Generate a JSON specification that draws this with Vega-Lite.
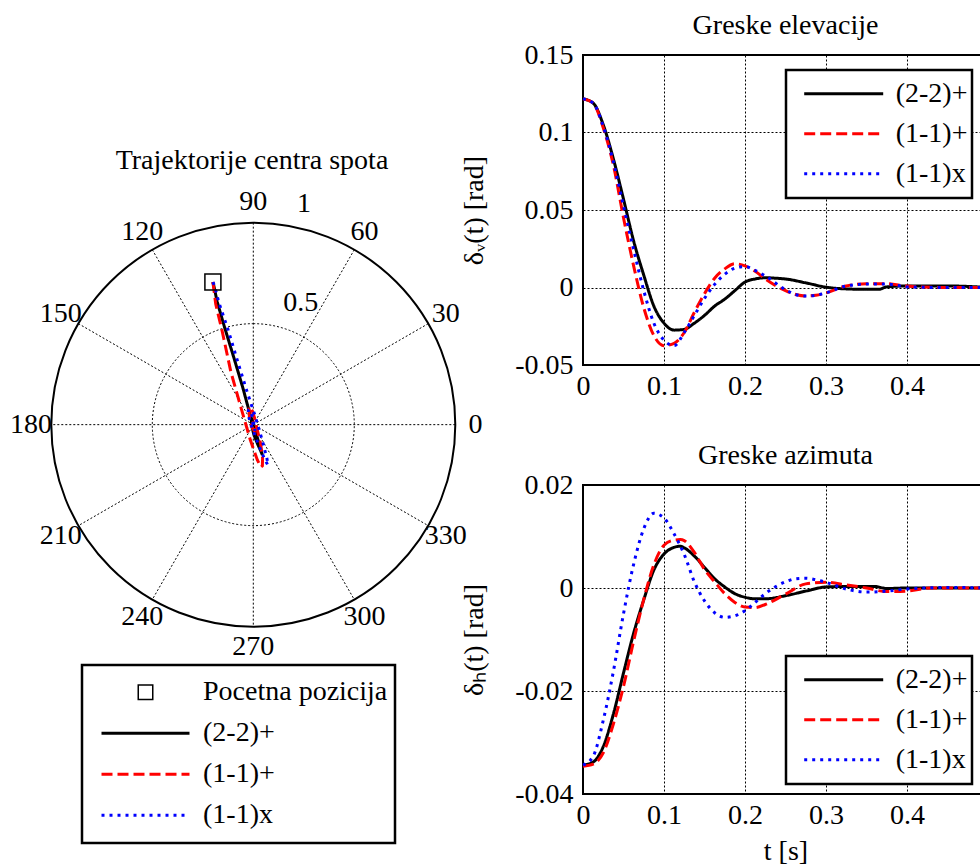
{
  "$schema": "https://vega.github.io/schema/vega-lite/v6.json",
  "padding": {"left": 0, "top": 11, "right": 0, "bottom": 0},
  "background": "white",
  "config": {
    "font": "Liberation Serif",
    "view": {"stroke": "black", "strokeWidth": 2},
    "axis": {
      "labelFont": "Liberation Serif", "labelFontSize": 28, "labelColor": "black",
      "titleFont": "Liberation Serif", "titleFontSize": 28, "titleFontWeight": "normal", "titleColor": "black",
      "ticks": false, "domain": false, "grid": true, "gridColor": "black", "gridDash": [2, 2], "gridOpacity": 1, "gridWidth": 1,
      "labelFlush": false, "labelOverlap": false
    },
    "title": {"font": "Liberation Serif", "fontSize": 28, "fontWeight": "normal", "color": "black"},
    "legend": {"labelFont": "Liberation Serif", "labelFontSize": 28, "labelColor": "black", "labelLimit": 400}
  },
  "datasets": {
    "elev": [
      {"t":0,"v":0.1217,"s":"(2-2)+"},{"t":0.0125,"v":0.119,"s":"(2-2)+"},{"t":0.025,"v":0.105,"s":"(2-2)+"},{"t":0.0375,"v":0.083,"s":"(2-2)+"},{"t":0.05,"v":0.057,"s":"(2-2)+"},{"t":0.0625,"v":0.03,"s":"(2-2)+"},{"t":0.075,"v":0.008,"s":"(2-2)+"},{"t":0.0875,"v":-0.012,"s":"(2-2)+"},{"t":0.1,"v":-0.023,"s":"(2-2)+"},{"t":0.1125,"v":-0.0275,"s":"(2-2)+"},{"t":0.125,"v":-0.027,"s":"(2-2)+"},{"t":0.1375,"v":-0.023,"s":"(2-2)+"},{"t":0.15,"v":-0.018,"s":"(2-2)+"},{"t":0.1625,"v":-0.012,"s":"(2-2)+"},{"t":0.175,"v":-0.0075,"s":"(2-2)+"},{"t":0.1875,"v":-0.002,"s":"(2-2)+"},{"t":0.2,"v":0.0035,"s":"(2-2)+"},{"t":0.2125,"v":0.0055,"s":"(2-2)+"},{"t":0.225,"v":0.0063,"s":"(2-2)+"},{"t":0.2375,"v":0.006,"s":"(2-2)+"},{"t":0.25,"v":0.0055,"s":"(2-2)+"},{"t":0.275,"v":0.003,"s":"(2-2)+"},{"t":0.3,"v":0.0002,"s":"(2-2)+"},{"t":0.325,"v":-0.0009,"s":"(2-2)+"},{"t":0.35,"v":-0.0012,"s":"(2-2)+"},{"t":0.365,"v":-0.0012,"s":"(2-2)+"},{"t":0.375,"v":0.0004,"s":"(2-2)+"},{"t":0.4,"v":0.001,"s":"(2-2)+"},{"t":0.45,"v":0.001,"s":"(2-2)+"},{"t":0.5,"v":0,"s":"(2-2)+"},
      {"t":0,"v":0.1217,"s":"(1-1)+"},{"t":0.0125,"v":0.119,"s":"(1-1)+"},{"t":0.025,"v":0.103,"s":"(1-1)+"},{"t":0.0375,"v":0.079,"s":"(1-1)+"},{"t":0.05,"v":0.045,"s":"(1-1)+"},{"t":0.0625,"v":0.014,"s":"(1-1)+"},{"t":0.075,"v":-0.013,"s":"(1-1)+"},{"t":0.0875,"v":-0.031,"s":"(1-1)+"},{"t":0.1,"v":-0.0375,"s":"(1-1)+"},{"t":0.1125,"v":-0.036,"s":"(1-1)+"},{"t":0.125,"v":-0.029,"s":"(1-1)+"},{"t":0.1375,"v":-0.016,"s":"(1-1)+"},{"t":0.15,"v":-0.004,"s":"(1-1)+"},{"t":0.1625,"v":0.006,"s":"(1-1)+"},{"t":0.175,"v":0.012,"s":"(1-1)+"},{"t":0.1875,"v":0.0153,"s":"(1-1)+"},{"t":0.2,"v":0.014,"s":"(1-1)+"},{"t":0.2125,"v":0.0105,"s":"(1-1)+"},{"t":0.225,"v":0.0055,"s":"(1-1)+"},{"t":0.25,"v":-0.002,"s":"(1-1)+"},{"t":0.2625,"v":-0.0045,"s":"(1-1)+"},{"t":0.275,"v":-0.0055,"s":"(1-1)+"},{"t":0.2875,"v":-0.005,"s":"(1-1)+"},{"t":0.3,"v":-0.0035,"s":"(1-1)+"},{"t":0.325,"v":0.001,"s":"(1-1)+"},{"t":0.35,"v":0.0024,"s":"(1-1)+"},{"t":0.375,"v":0.0024,"s":"(1-1)+"},{"t":0.4,"v":0.0009,"s":"(1-1)+"},{"t":0.45,"v":0,"s":"(1-1)+"},{"t":0.5,"v":0,"s":"(1-1)+"},
      {"t":0,"v":0.1217,"s":"(1-1)x"},{"t":0.0125,"v":0.119,"s":"(1-1)x"},{"t":0.025,"v":0.104,"s":"(1-1)x"},{"t":0.0375,"v":0.081,"s":"(1-1)x"},{"t":0.05,"v":0.0525,"s":"(1-1)x"},{"t":0.0625,"v":0.0245,"s":"(1-1)x"},{"t":0.075,"v":-0.002,"s":"(1-1)x"},{"t":0.0875,"v":-0.023,"s":"(1-1)x"},{"t":0.1,"v":-0.034,"s":"(1-1)x"},{"t":0.1125,"v":-0.0375,"s":"(1-1)x"},{"t":0.125,"v":-0.029,"s":"(1-1)x"},{"t":0.1375,"v":-0.018,"s":"(1-1)x"},{"t":0.15,"v":-0.007,"s":"(1-1)x"},{"t":0.1625,"v":0.002,"s":"(1-1)x"},{"t":0.175,"v":0.0085,"s":"(1-1)x"},{"t":0.1875,"v":0.0125,"s":"(1-1)x"},{"t":0.2,"v":0.0135,"s":"(1-1)x"},{"t":0.2125,"v":0.011,"s":"(1-1)x"},{"t":0.225,"v":0.0075,"s":"(1-1)x"},{"t":0.25,"v":-0.0015,"s":"(1-1)x"},{"t":0.2625,"v":-0.0045,"s":"(1-1)x"},{"t":0.275,"v":-0.0055,"s":"(1-1)x"},{"t":0.2875,"v":-0.005,"s":"(1-1)x"},{"t":0.3,"v":-0.0035,"s":"(1-1)x"},{"t":0.325,"v":0.001,"s":"(1-1)x"},{"t":0.35,"v":0.0022,"s":"(1-1)x"},{"t":0.375,"v":0.0022,"s":"(1-1)x"},{"t":0.4,"v":0.0004,"s":"(1-1)x"},{"t":0.45,"v":0,"s":"(1-1)x"},{"t":0.5,"v":0,"s":"(1-1)x"}
    ],
    "azim": [
      {"t":0,"h":-0.0344,"s":"(2-2)+"},{"t":0.0125,"h":-0.0338,"s":"(2-2)+"},{"t":0.025,"h":-0.0308,"s":"(2-2)+"},{"t":0.0375,"h":-0.0245,"s":"(2-2)+"},{"t":0.05,"h":-0.0165,"s":"(2-2)+"},{"t":0.0625,"h":-0.0088,"s":"(2-2)+"},{"t":0.075,"h":-0.0023,"s":"(2-2)+"},{"t":0.0875,"h":0.0035,"s":"(2-2)+"},{"t":0.1,"h":0.0066,"s":"(2-2)+"},{"t":0.1125,"h":0.0079,"s":"(2-2)+"},{"t":0.12,"h":0.0081,"s":"(2-2)+"},{"t":0.125,"h":0.0078,"s":"(2-2)+"},{"t":0.1375,"h":0.0062,"s":"(2-2)+"},{"t":0.15,"h":0.004,"s":"(2-2)+"},{"t":0.1625,"h":0.0018,"s":"(2-2)+"},{"t":0.175,"h":0.0002,"s":"(2-2)+"},{"t":0.1875,"h":-0.0011,"s":"(2-2)+"},{"t":0.2,"h":-0.0018,"s":"(2-2)+"},{"t":0.2125,"h":-0.0021,"s":"(2-2)+"},{"t":0.225,"h":-0.0021,"s":"(2-2)+"},{"t":0.25,"h":-0.0015,"s":"(2-2)+"},{"t":0.275,"h":-0.0006,"s":"(2-2)+"},{"t":0.3,"h":0.0002,"s":"(2-2)+"},{"t":0.325,"h":0.0003,"s":"(2-2)+"},{"t":0.36,"h":0.0003,"s":"(2-2)+"},{"t":0.375,"h":-0.0001,"s":"(2-2)+"},{"t":0.4,"h":0,"s":"(2-2)+"},{"t":0.5,"h":0,"s":"(2-2)+"},
      {"t":0,"h":-0.0346,"s":"(1-1)+"},{"t":0.0125,"h":-0.0342,"s":"(1-1)+"},{"t":0.025,"h":-0.032,"s":"(1-1)+"},{"t":0.0375,"h":-0.0264,"s":"(1-1)+"},{"t":0.05,"h":-0.0191,"s":"(1-1)+"},{"t":0.0625,"h":-0.0103,"s":"(1-1)+"},{"t":0.075,"h":-0.0022,"s":"(1-1)+"},{"t":0.0875,"h":0.0045,"s":"(1-1)+"},{"t":0.1,"h":0.0083,"s":"(1-1)+"},{"t":0.1125,"h":0.0093,"s":"(1-1)+"},{"t":0.12,"h":0.0094,"s":"(1-1)+"},{"t":0.125,"h":0.0092,"s":"(1-1)+"},{"t":0.1375,"h":0.0069,"s":"(1-1)+"},{"t":0.15,"h":0.0036,"s":"(1-1)+"},{"t":0.1625,"h":0.0012,"s":"(1-1)+"},{"t":0.175,"h":-0.0011,"s":"(1-1)+"},{"t":0.1875,"h":-0.0028,"s":"(1-1)+"},{"t":0.2,"h":-0.0037,"s":"(1-1)+"},{"t":0.2125,"h":-0.0038,"s":"(1-1)+"},{"t":0.225,"h":-0.0032,"s":"(1-1)+"},{"t":0.25,"h":-0.0012,"s":"(1-1)+"},{"t":0.275,"h":0.0008,"s":"(1-1)+"},{"t":0.3,"h":0.0011,"s":"(1-1)+"},{"t":0.325,"h":0.0006,"s":"(1-1)+"},{"t":0.35,"h":0,"s":"(1-1)+"},{"t":0.375,"h":-0.0007,"s":"(1-1)+"},{"t":0.4,"h":-0.0006,"s":"(1-1)+"},{"t":0.43,"h":0,"s":"(1-1)+"},{"t":0.5,"h":0,"s":"(1-1)+"},
      {"t":0,"h":-0.0344,"s":"(1-1)x"},{"t":0.0125,"h":-0.0327,"s":"(1-1)x"},{"t":0.025,"h":-0.0257,"s":"(1-1)x"},{"t":0.0375,"h":-0.0162,"s":"(1-1)x"},{"t":0.05,"h":-0.005,"s":"(1-1)x"},{"t":0.0625,"h":0.0046,"s":"(1-1)x"},{"t":0.075,"h":0.0115,"s":"(1-1)x"},{"t":0.0875,"h":0.0145,"s":"(1-1)x"},{"t":0.1,"h":0.0136,"s":"(1-1)x"},{"t":0.1125,"h":0.0105,"s":"(1-1)x"},{"t":0.125,"h":0.0065,"s":"(1-1)x"},{"t":0.1375,"h":0.0012,"s":"(1-1)x"},{"t":0.15,"h":-0.0025,"s":"(1-1)x"},{"t":0.1625,"h":-0.0048,"s":"(1-1)x"},{"t":0.175,"h":-0.0057,"s":"(1-1)x"},{"t":0.1875,"h":-0.0054,"s":"(1-1)x"},{"t":0.2,"h":-0.0044,"s":"(1-1)x"},{"t":0.2125,"h":-0.0028,"s":"(1-1)x"},{"t":0.225,"h":-0.0011,"s":"(1-1)x"},{"t":0.25,"h":0.0012,"s":"(1-1)x"},{"t":0.2625,"h":0.0018,"s":"(1-1)x"},{"t":0.275,"h":0.0019,"s":"(1-1)x"},{"t":0.2875,"h":0.0016,"s":"(1-1)x"},{"t":0.3,"h":0.0011,"s":"(1-1)x"},{"t":0.325,"h":-0.0002,"s":"(1-1)x"},{"t":0.35,"h":-0.0008,"s":"(1-1)x"},{"t":0.375,"h":-0.0006,"s":"(1-1)x"},{"t":0.4,"h":-0.0002,"s":"(1-1)x"},{"t":0.45,"h":0.0001,"s":"(1-1)x"},{"t":0.5,"h":0,"s":"(1-1)x"}
    ],
    "traj": [
      {"o":0,"x":-0.2,"y":0.706,"s":"(2-2)+"},{"o":1,"x":-0.196,"y":0.69,"s":"(2-2)+"},{"o":2,"x":-0.179,"y":0.609,"s":"(2-2)+"},{"o":3,"x":-0.142,"y":0.481,"s":"(2-2)+"},{"o":4,"x":-0.096,"y":0.331,"s":"(2-2)+"},{"o":5,"x":-0.051,"y":0.18,"s":"(2-2)+"},{"o":6,"x":-0.015,"y":0.046,"s":"(2-2)+"},{"o":7,"x":0.02,"y":-0.064,"s":"(2-2)+"},{"o":8,"x":0.038,"y":-0.128,"s":"(2-2)+"},{"o":9,"x":0.045,"y":-0.15,"s":"(2-2)+"},{"o":10,"x":0.044,"y":-0.148,"s":"(2-2)+"},{"o":11,"x":0.036,"y":-0.128,"s":"(2-2)+"},{"o":12,"x":0.023,"y":-0.1,"s":"(2-2)+"},{"o":13,"x":0.01,"y":-0.068,"s":"(2-2)+"},{"o":14,"x":0.001,"y":-0.043,"s":"(2-2)+"},{"o":15,"x":-0.006,"y":-0.012,"s":"(2-2)+"},{"o":16,"x":-0.01,"y":0.02,"s":"(2-2)+"},{"o":17,"x":-0.012,"y":0.036,"s":"(2-2)+"},{"o":18,"x":-0.009,"y":0.032,"s":"(2-2)+"},{"o":19,"x":-0.003,"y":0.017,"s":"(2-2)+"},{"o":20,"x":0.001,"y":0.001,"s":"(2-2)+"},{"o":21,"x":0.002,"y":-0.007,"s":"(2-2)+"},{"o":22,"x":0,"y":0.006,"s":"(2-2)+"},{"o":23,"x":0,"y":0,"s":"(2-2)+"},
      {"o":0,"x":-0.201,"y":0.706,"s":"(1-1)+"},{"o":1,"x":-0.198,"y":0.69,"s":"(1-1)+"},{"o":2,"x":-0.186,"y":0.597,"s":"(1-1)+"},{"o":3,"x":-0.153,"y":0.458,"s":"(1-1)+"},{"o":4,"x":-0.111,"y":0.261,"s":"(1-1)+"},{"o":5,"x":-0.06,"y":0.081,"s":"(1-1)+"},{"o":6,"x":-0.015,"y":-0.075,"s":"(1-1)+"},{"o":7,"x":0.02,"y":-0.175,"s":"(1-1)+"},{"o":8,"x":0.038,"y":-0.21,"s":"(1-1)+"},{"o":9,"x":0.045,"y":-0.204,"s":"(1-1)+"},{"o":10,"x":0.046,"y":-0.165,"s":"(1-1)+"},{"o":11,"x":0.036,"y":-0.093,"s":"(1-1)+"},{"o":12,"x":0.019,"y":-0.023,"s":"(1-1)+"},{"o":13,"x":0.006,"y":0.035,"s":"(1-1)+"},{"o":14,"x":-0.006,"y":0.07,"s":"(1-1)+"},{"o":15,"x":-0.016,"y":0.089,"s":"(1-1)+"},{"o":16,"x":-0.021,"y":0.081,"s":"(1-1)+"},{"o":17,"x":-0.019,"y":0.032,"s":"(1-1)+"},{"o":18,"x":-0.007,"y":-0.012,"s":"(1-1)+"},{"o":19,"x":0.005,"y":-0.032,"s":"(1-1)+"},{"o":20,"x":0.006,"y":-0.02,"s":"(1-1)+"},{"o":21,"x":0,"y":0.014,"s":"(1-1)+"},{"o":22,"x":-0.003,"y":0.005,"s":"(1-1)+"},{"o":23,"x":0,"y":0,"s":"(1-1)+"},
      {"o":0,"x":-0.2,"y":0.706,"s":"(1-1)x"},{"o":1,"x":-0.193,"y":0.69,"s":"(1-1)x"},{"o":2,"x":-0.17,"y":0.603,"s":"(1-1)x"},{"o":3,"x":-0.125,"y":0.47,"s":"(1-1)x"},{"o":4,"x":-0.075,"y":0.305,"s":"(1-1)x"},{"o":5,"x":-0.03,"y":0.16,"s":"(1-1)x"},{"o":6,"x":0.01,"y":0.04,"s":"(1-1)x"},{"o":7,"x":0.045,"y":-0.08,"s":"(1-1)x"},{"o":8,"x":0.068,"y":-0.17,"s":"(1-1)x"},{"o":9,"x":0.072,"y":-0.2,"s":"(1-1)x"},{"o":10,"x":0.058,"y":-0.175,"s":"(1-1)x"},{"o":11,"x":0.03,"y":-0.11,"s":"(1-1)x"},{"o":12,"x":0.005,"y":-0.045,"s":"(1-1)x"},{"o":13,"x":-0.015,"y":0.01,"s":"(1-1)x"},{"o":14,"x":-0.025,"y":0.049,"s":"(1-1)x"},{"o":15,"x":-0.025,"y":0.07,"s":"(1-1)x"},{"o":16,"x":-0.02,"y":0.075,"s":"(1-1)x"},{"o":17,"x":-0.006,"y":0.044,"s":"(1-1)x"},{"o":18,"x":0.005,"y":-0.009,"s":"(1-1)x"},{"o":19,"x":0.009,"y":-0.03,"s":"(1-1)x"},{"o":20,"x":0.005,"y":-0.02,"s":"(1-1)x"},{"o":21,"x":-0.004,"y":0.013,"s":"(1-1)x"},{"o":22,"x":-0.001,"y":0.002,"s":"(1-1)x"},{"o":23,"x":0,"y":0,"s":"(1-1)x"}
    ],
    "spokes": [
      {"x":1,"y":0,"x2":-1,"y2":0},
      {"x":0.866,"y":0.5,"x2":-0.866,"y2":-0.5},
      {"x":0.5,"y":0.866,"x2":-0.5,"y2":-0.866},
      {"x":0,"y":1,"x2":0,"y2":-1},
      {"x":-0.5,"y":0.866,"x2":0.5,"y2":-0.866},
      {"x":-0.866,"y":0.5,"x2":0.866,"y2":-0.5}
    ],
    "alab": [
      {"x":1.1,"y":0,"label":"0"},{"x":0.953,"y":0.55,"label":"30"},{"x":0.55,"y":0.953,"label":"60"},{"x":0,"y":1.1,"label":"90"},
      {"x":-0.55,"y":0.953,"label":"120"},{"x":-0.953,"y":0.55,"label":"150"},{"x":-1.1,"y":0,"label":"180"},{"x":-0.953,"y":-0.55,"label":"210"},
      {"x":-0.55,"y":-0.953,"label":"240"},{"x":0,"y":-1.1,"label":"270"},{"x":0.55,"y":-0.953,"label":"300"},{"x":0.953,"y":-0.55,"label":"330"},
      {"x":0.235,"y":0.602,"label":"0.5"},{"x":0.251,"y":1.092,"label":"1"}
    ]
  },
  "bounds": "flush",
  "spacing": 113,
  "resolve": {"scale": {"color": "independent", "strokeDash": "independent"}, "legend": {"color": "independent", "strokeDash": "independent"}},
  "hconcat": [
    {
      "width": 470,
      "height": 770,
      "view": {"stroke": null},
      "title": {"text": "Trajektorije centra spota", "offset": -142, "baseline": "alphabetic", "frame": "group", "anchor": "middle", "dx": 17},
      "layer": [
        {
          "data": {"values": [{"cx": 0, "cy": 0, "r": 0.5}]},
          "mark": {"type": "arc", "filled": false, "stroke": "black", "strokeWidth": 1, "strokeDash": [2, 2], "theta": 0, "theta2": 6.2832},
          "encoding": {
            "x": {"field": "cx", "type": "quantitative", "scale": {"domain": [-1.254, 1.0728], "nice": false, "zero": false}, "axis": null},
            "y": {"field": "cy", "type": "quantitative", "scale": {"domain": [-1.982, 1.83], "nice": false, "zero": false}, "axis": null},
            "radius": {"field": "r", "type": "quantitative", "scale": {"type": "linear", "domain": [0, 1], "range": [0, 202], "zero": true, "nice": false}}
          }
        },
        {
          "data": {"values": [{"cx": 0, "cy": 0, "r": 1}]},
          "mark": {"type": "arc", "filled": false, "stroke": "black", "strokeWidth": 2, "theta": 0, "theta2": 6.2832},
          "encoding": {
            "x": {"field": "cx", "type": "quantitative", "scale": {"domain": [-1.254, 1.0728], "nice": false, "zero": false}, "axis": null},
            "y": {"field": "cy", "type": "quantitative", "scale": {"domain": [-1.982, 1.83], "nice": false, "zero": false}, "axis": null},
            "radius": {"field": "r", "type": "quantitative", "scale": {"type": "linear", "domain": [0, 1], "range": [0, 202], "zero": true, "nice": false}}
          }
        },
        {
          "data": {"name": "spokes"},
          "mark": {"type": "rule", "stroke": "black", "strokeWidth": 1, "strokeDash": [2, 2]},
          "encoding": {
            "x": {"field": "x", "type": "quantitative", "scale": {"domain": [-1.254, 1.0728], "nice": false, "zero": false}, "axis": null},
            "y": {"field": "y", "type": "quantitative", "scale": {"domain": [-1.982, 1.83], "nice": false, "zero": false}, "axis": null},
            "x2": {"field": "x2"},
            "y2": {"field": "y2"}
          }
        },
        {
          "data": {"name": "alab"},
          "mark": {"type": "text", "font": "Liberation Serif", "fontSize": 28, "color": "black", "align": "center", "baseline": "middle"},
          "encoding": {
            "x": {"field": "x", "type": "quantitative", "scale": {"domain": [-1.254, 1.0728], "nice": false, "zero": false}, "axis": null},
            "y": {"field": "y", "type": "quantitative", "scale": {"domain": [-1.982, 1.83], "nice": false, "zero": false}, "axis": null},
            "text": {"field": "label", "type": "nominal"}
          }
        },
        {
          "data": {"name": "traj"},
          "mark": {"type": "line", "strokeWidth": 3},
          "encoding": {
            "x": {"field": "x", "type": "quantitative", "scale": {"domain": [-1.254, 1.0728], "nice": false, "zero": false}, "axis": null},
            "y": {"field": "y", "type": "quantitative", "scale": {"domain": [-1.982, 1.83], "nice": false, "zero": false}, "axis": null},
            "order": {"field": "o", "type": "quantitative"},
            "color": {
              "field": "s", "type": "nominal",
              "scale": {"domain": ["Pocetna pozicija", "(2-2)+", "(1-1)+", "(1-1)x"], "range": ["black", "black", "red", "blue"]},
              "legend": {"title": null, "orient": "none", "legendX": 82, "legendY": 610, "strokeColor": "black", "fillColor": "white", "padding": 7, "symbolType": "stroke", "symbolSize": 7744, "symbolStrokeWidth": 3, "symbolOffset": 11, "labelOffset": 12, "clipHeight": 40.7, "rowPadding": 0,
                "encode": {"legend": {"update": {"strokeWidth": {"value": 2.5}}}, "symbols": {"update": {"shape": {"signal": "datum.value === 'Pocetna pozicija' ? 'M-0.182,-0.182H0.182V0.182H-0.182Z M-0.148,-0.148V0.148H0.148V-0.148Z' : 'stroke'"}, "fill": {"signal": "datum.value === 'Pocetna pozicija' ? 'black' : 'transparent'"}, "strokeOpacity": {"signal": "datum.value === 'Pocetna pozicija' ? 0 : 1"}}}}}
            },
            "strokeDash": {
              "field": "s", "type": "nominal",
              "scale": {"domain": ["Pocetna pozicija", "(2-2)+", "(1-1)+", "(1-1)x"], "range": [[1, 0], [1, 0], [11, 5], [3, 5]]},
              "legend": {"title": null, "orient": "none", "legendX": 82, "legendY": 610, "strokeColor": "black", "fillColor": "white", "padding": 7, "symbolType": "stroke", "symbolSize": 7744, "symbolStrokeWidth": 3, "symbolOffset": 11, "labelOffset": 12, "clipHeight": 40.7, "rowPadding": 0,
                "encode": {"legend": {"update": {"strokeWidth": {"value": 2.5}}}, "symbols": {"update": {"shape": {"signal": "datum.value === 'Pocetna pozicija' ? 'M-0.182,-0.182H0.182V0.182H-0.182Z M-0.148,-0.148V0.148H0.148V-0.148Z' : 'stroke'"}, "fill": {"signal": "datum.value === 'Pocetna pozicija' ? 'black' : 'transparent'"}, "strokeOpacity": {"signal": "datum.value === 'Pocetna pozicija' ? 0 : 1"}}}}}
            }
          }
        },
        {
          "data": {"values": [{"x": -0.2, "y": 0.706, "s": "Pocetna pozicija"}]},
          "mark": {"type": "point", "shape": "square", "filled": false, "size": 256, "strokeWidth": 1.5, "opacity": 1, "stroke": "black"},
          "encoding": {
            "x": {"field": "x", "type": "quantitative", "scale": {"domain": [-1.254, 1.0728], "nice": false, "zero": false}, "axis": null},
            "y": {"field": "y", "type": "quantitative", "scale": {"domain": [-1.982, 1.83], "nice": false, "zero": false}, "axis": null}
          }
        }
      ]
    },
    {
      "bounds": "flush",
      "spacing": 120,
      "resolve": {"scale": {"color": "independent", "strokeDash": "independent"}, "legend": {"color": "independent", "strokeDash": "independent"}},
      "vconcat": [
        {
          "width": 405,
          "height": 310,
          "title": {"text": "Greske elevacije", "offset": -21, "baseline": "alphabetic"},
          "data": {"name": "elev"},
          "mark": {"type": "line", "strokeWidth": 3, "interpolate": "monotone"},
          "encoding": {
            "x": {"field": "t", "type": "quantitative", "scale": {"domain": [0, 0.5], "nice": false, "zero": false},
              "axis": {"values": [0, 0.1, 0.2, 0.3, 0.4], "labelExpr": "datum.value + ''", "title": null, "labelPadding": 7}},
            "y": {"field": "v", "type": "quantitative", "scale": {"domain": [-0.05, 0.15], "nice": false, "zero": false},
              "axis": {"values": [-0.05, 0, 0.05, 0.1, 0.15], "labelExpr": "datum.value + ''", "title": "δᵥ(t) [rad]", "labelPadding": 10, "titlePadding": 27, "minExtent": 68, "maxExtent": 68}},
            "color": {"field": "s", "type": "nominal",
              "scale": {"domain": ["(2-2)+", "(1-1)+", "(1-1)x"], "range": ["black", "red", "blue"]},
              "legend": {"title": null, "orient": "none", "legendX": 203, "legendY": 15, "strokeColor": "black", "fillColor": "white", "padding": 4, "symbolType": "stroke", "symbolSize": 6241, "symbolStrokeWidth": 3, "symbolOffset": 12.7, "labelOffset": 11, "clipHeight": 39.5, "rowPadding": 0,
                "encode": {"legend": {"update": {"strokeWidth": {"value": 2.5}}}}}},
            "strokeDash": {"field": "s", "type": "nominal",
              "scale": {"domain": ["(2-2)+", "(1-1)+", "(1-1)x"], "range": [[1, 0], [11, 5], [3, 5]]},
              "legend": {"title": null, "orient": "none", "legendX": 203, "legendY": 15, "strokeColor": "black", "fillColor": "white", "padding": 4, "symbolType": "stroke", "symbolSize": 6241, "symbolStrokeWidth": 3, "symbolOffset": 12.7, "labelOffset": 11, "clipHeight": 39.5, "rowPadding": 0,
                "encode": {"legend": {"update": {"strokeWidth": {"value": 2.5}}}}}}
          }
        },
        {
          "width": 405,
          "height": 309,
          "title": {"text": "Greske azimuta", "offset": -21, "baseline": "alphabetic"},
          "data": {"name": "azim"},
          "mark": {"type": "line", "strokeWidth": 3, "interpolate": "monotone"},
          "encoding": {
            "x": {"field": "t", "type": "quantitative", "scale": {"domain": [0, 0.5], "nice": false, "zero": false},
              "axis": {"values": [0, 0.1, 0.2, 0.3, 0.4], "labelExpr": "datum.value + ''", "title": "t [s]", "labelPadding": 7, "titlePadding": 8}},
            "y": {"field": "h", "type": "quantitative", "scale": {"domain": [-0.04, 0.02], "nice": false, "zero": false},
              "axis": {"values": [-0.04, -0.02, 0, 0.02], "labelExpr": "datum.value + ''", "title": "δₕ(t) [rad]", "labelPadding": 10, "titlePadding": 27, "minExtent": 68, "maxExtent": 68}},
            "color": {"field": "s", "type": "nominal",
              "scale": {"domain": ["(2-2)+", "(1-1)+", "(1-1)x"], "range": ["black", "red", "blue"]},
              "legend": {"title": null, "orient": "none", "legendX": 203, "legendY": 171, "strokeColor": "black", "fillColor": "white", "padding": 4, "symbolType": "stroke", "symbolSize": 6241, "symbolStrokeWidth": 3, "symbolOffset": 12.7, "labelOffset": 11, "clipHeight": 39.5, "rowPadding": 0,
                "encode": {"legend": {"update": {"strokeWidth": {"value": 2.5}}}}}},
            "strokeDash": {"field": "s", "type": "nominal",
              "scale": {"domain": ["(2-2)+", "(1-1)+", "(1-1)x"], "range": [[1, 0], [11, 5], [3, 5]]},
              "legend": {"title": null, "orient": "none", "legendX": 203, "legendY": 171, "strokeColor": "black", "fillColor": "white", "padding": 4, "symbolType": "stroke", "symbolSize": 6241, "symbolStrokeWidth": 3, "symbolOffset": 12.7, "labelOffset": 11, "clipHeight": 39.5, "rowPadding": 0,
                "encode": {"legend": {"update": {"strokeWidth": {"value": 2.5}}}}}}
          }
        }
      ]
    }
  ]
}
